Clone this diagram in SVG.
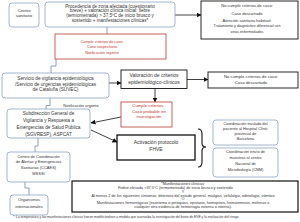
<svg xmlns="http://www.w3.org/2000/svg" width="300" height="222" viewBox="0 0 300 222">
<defs>
<marker id="ah" viewBox="0 0 10 10" refX="9" refY="5" markerWidth="5" markerHeight="5" orient="auto" markerUnits="userSpaceOnUse">
<path d="M0,0 L10,5 L0,10 z" fill="#111"/>
</marker>
<style>
.rb{fill:#fff;stroke:#8aa4c4;stroke-width:0.8}
.bb{fill:#fff;stroke:#111;stroke-width:0.9}
.rd{fill:#fff;stroke:#c0504d;stroke-width:0.9}
text{font-family:"Liberation Sans",Arial,sans-serif;fill:#333;text-anchor:middle}
.tr{fill:#c0392b}
.conn{fill:none;stroke:#7d95b2;stroke-width:0.9}
.arr{fill:none;stroke:#111;stroke-width:0.8;marker-end:url(#ah)}
</style>
</defs>
<rect width="300" height="222" fill="#fff"/>

<g id="connectors">
<line class="conn" x1="107" y1="27" x2="107" y2="34"/>
<path class="conn" d="M56 59 V66 H51 V73"/>
<path class="conn" d="M50 98 V105.5 H46 V109"/>
<path class="conn" d="M38 138 V146 H35 V152"/>
<path class="conn" d="M25 182 V188 H29 V195"/>
<line class="arr" x1="175" y1="15" x2="201" y2="15"/>
<line class="arr" x1="109" y1="83" x2="121" y2="83"/>
<line class="arr" x1="187" y1="79.5" x2="208" y2="79.5"/>
<line class="arr" x1="155" y1="88.5" x2="155" y2="102"/>
<line class="arr" x1="121" y1="117" x2="91" y2="123"/>
<line class="arr" x1="91" y1="130" x2="117" y2="142"/>
<path d="M198 129 Q202 129 202 134 V143 Q202 147 206 147 Q202 147 202 151 V162 Q202 167 198 167" fill="none" stroke="#111" stroke-width="1.1"/>
<text x="81" y="106.5" font-size="4">Notificación urgente</text>
</g>

<g id="centro-sanitario">
<rect class="rb" x="9" y="3" width="30" height="24" rx="3"/>
<text x="24" y="11.5" font-size="4.4">Centro</text>
<text x="24" y="17" font-size="4.4">sanitario</text>
</g>

<g id="procedencia">
<rect class="rb" x="45" y="2" width="130" height="25" rx="3"/>
<text x="110" y="7.6" font-size="4.6">Procedencia de zona afectada (cuestionario</text>
<text x="110" y="12.4" font-size="4.6">breve) + valoración clínica inicial: fiebre</text>
<text x="110" y="17.2" font-size="4.6">(termometrada) &gt; 37,5ºC de inicio brusco y</text>
<text x="110" y="22" font-size="4.6">sostenido + manifestaciones clínicas*</text>
</g>

<g id="no-cumple-1">
<rect class="bb" x="201" y="1" width="97" height="38"/>
<text x="247" y="7.3" font-size="4.1">No cumple criterios de caso:</text>
<text x="247" y="14.7" font-size="4.1">Caso descartado</text>
<text x="247" y="22.1" font-size="4.1">Atención sanitaria habitual:</text>
<text x="247" y="27" font-size="3.7">Tratamiento y diagnóstico diferencial con</text>
<text x="247" y="33" font-size="3.7">otras enfermedades</text>
</g>

<g id="caso-sospechoso">
<rect class="rd" x="55" y="34" width="111" height="25"/>
<text class="tr" x="102" y="42.6" font-size="3.8">Cumple criterios de caso:</text>
<text class="tr" x="102" y="48.3" font-size="3.8">Caso sospechoso</text>
<text class="tr" x="102" y="54" font-size="3.8">Notificación urgente</text>
</g>

<g id="suvec">
<rect class="rb" x="2" y="73" width="107" height="25" rx="3"/>
<text x="55.5" y="80.2" font-size="4.7">Servicio de vigilancia epidemiológica</text>
<text x="55.5" y="85.5" font-size="4.7">/Servicio de urgencias epidemiológicas</text>
<text x="55.5" y="90.8" font-size="4.7">de Cataluña (SUVEC)</text>
</g>

<g id="valoracion">
<rect class="bb" x="121" y="70" width="66" height="18.5"/>
<text x="154" y="77.2" font-size="5">Valoración de criterios</text>
<text x="154" y="83.7" font-size="5">epidemiológico-clínicos</text>
</g>

<g id="no-cumple-2">
<rect class="bb" x="208" y="72" width="90" height="16"/>
<text x="251" y="77.5" font-size="4.3">No cumple criterios de caso:</text>
<text x="251" y="84.2" font-size="4.3">Caso descartado</text>
</g>

<g id="caso-probable">
<rect class="rd" x="121" y="102" width="51" height="25"/>
<text class="tr" x="149" y="107.2" font-size="4.3">Cumple criterios :</text>
<text class="tr" x="149" y="112.5" font-size="4.3">Caso probable en</text>
<text class="tr" x="149" y="118.2" font-size="4.3">investigación</text>
</g>

<g id="sgvresp">
<rect class="rb" x="7" y="109" width="83" height="29" rx="3"/>
<text x="48.5" y="114.6" font-size="4.7">Subdirección General de</text>
<text x="48.5" y="121.6" font-size="4.7">Vigilancia y Respuesta a</text>
<text x="48.5" y="128.6" font-size="4.7">Emergencias de Salud Pública</text>
<text x="48.5" y="135.6" font-size="4.7">(SGVRESP), ASPCAT</text>
</g>

<g id="activacion">
<rect x="117" y="135" width="78" height="25" fill="#fff" stroke="#111" stroke-width="1.3"/>
<text x="156" y="144" font-size="5">Activación protocolo</text>
<text x="156" y="151.2" font-size="5">FHVE</text>
</g>

<g id="traslado">
<rect class="rb" x="213" y="120" width="65" height="25" rx="3"/>
<text x="245.5" y="125.4" font-size="3.9">Coordinación traslado del</text>
<text x="245.5" y="130.4" font-size="3.9">paciente al Hospital Clínic</text>
<text x="245.5" y="135.4" font-size="3.9">provincial de</text>
<text x="245.5" y="140.4" font-size="3.9">Barcelona</text>
</g>

<g id="muestras">
<rect class="rb" x="213" y="148" width="65" height="29" rx="3"/>
<text x="245.5" y="153.4" font-size="3.9">Coordinación envío de</text>
<text x="245.5" y="158.9" font-size="3.9">muestras al centro</text>
<text x="245.5" y="164.9" font-size="3.9">Nacional de</text>
<text x="245.5" y="171.4" font-size="3.9">Microbiología (CNM)</text>
</g>

<g id="ccaes">
<rect class="rb" x="7" y="152" width="63" height="30" rx="3"/>
<text x="38.5" y="157.9" font-size="4">Centro de Coordinación</text>
<text x="38.5" y="163.4" font-size="4">de Alertas y Emergencias</text>
<text x="38.5" y="169.4" font-size="4">Sanitarias (CCAES)</text>
<text x="38.5" y="174.9" font-size="4">MSSSI</text>
</g>

<g id="organismos">
<rect class="rb" x="10" y="195" width="38" height="20" rx="3"/>
<text x="29" y="201.4" font-size="4.1">Organismos</text>
<text x="29" y="208.1" font-size="4.1">internacionales</text>
</g>

<g id="manifestaciones">
<rect x="72" y="181" width="226" height="31" fill="#fff" stroke="#111" stroke-width="1.2"/>
<text x="183" y="185.2" font-size="3.8">*Manifestaciones clínicas:</text>
<text x="118" y="189" font-size="3.8" style="text-anchor:start">Fiebre  elevada &gt;37,5ºC (termometrada)  de inicio brusco y  sostenido</text>
<text x="183" y="192.8" font-size="3.8">Y</text>
<text x="183" y="196.6" font-size="3.8">Al menos 2 de los siguientes síntomas: deterioro del estado general, mialgias, cefalalgia, odinofagia, vómitos</text>
<text x="183" y="200.4" font-size="3.8">O</text>
<text x="183" y="204.2" font-size="3.8">Manifestaciones hemorrágicas (exantema o petequias, epistaxis, hemoptisis, hematemesis, melenas o</text>
<text x="183" y="208" font-size="3.8">cualquier otra evidencia de hemorragia externa o interna).</text>
</g>

<text x="13" y="218.3" font-size="3.3" style="text-anchor:start">*: La temperatura y las manifestaciones clínicas fueron modificándose a medida que avanzaba la investigación del brote de EVE y la evaluación del riesgo</text>
</svg>
